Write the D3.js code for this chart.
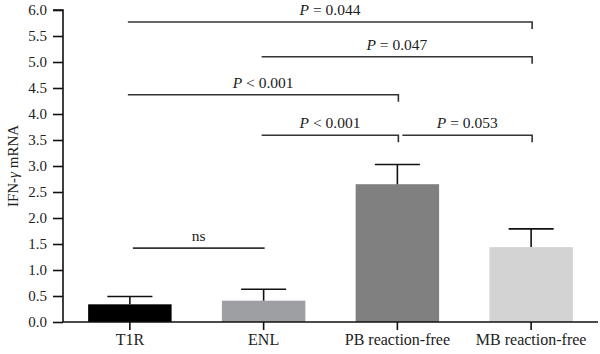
<!DOCTYPE html>
<html>
<head>
<meta charset="utf-8">
<script src="https://cdn.jsdelivr.net/npm/d3@7"></script>
<style>
html,body{margin:0;padding:0;background:#fff;}
svg{display:block;}
text{font-family:"Liberation Serif","Times New Roman",serif;fill:#222;}
</style>
</head>
<body>
<svg id="chart" width="600" height="354"></svg>
<script>
// ---- data ----
const categories = ["T1R", "ENL", "PB reaction-free", "MB reaction-free"];
const means = [0.34, 0.41, 2.65, 1.44];
const errorTops = [0.49, 0.63, 3.03, 1.79];
const barColors = ["#000000", "#9e9fa2", "#7f807f", "#d3d3d3"];
const yTicks = [0, 0.5, 1, 1.5, 2, 2.5, 3, 3.5, 4, 4.5, 5, 5.5, 6];
const bracketFrom = [0, 1, 0, 1, 2, 0];
const bracketTo = [3, 3, 2, 2, 3, 1];
const bracketLevel = [5.77, 5.10, 4.37, 3.59, 3.59, 1.42];
const bracketOp = ["=", "=", "<", "<", "=", ""];
const bracketValue = ["0.044", "0.047", "0.001", "0.001", "0.053", "ns"];

// ---- layout ----
const svg = d3.select("#chart");
const mLeft = 63, mRight = 598, mTop = 10, mBottom = 322;

const x = d3.scaleBand().domain(categories).range([mLeft, mRight])
  .paddingInner(0.376).paddingOuter(0.188);
const y = d3.scaleLinear().domain([0, 6]).range([mBottom, mTop]);

// bars
svg.append("g").selectAll("rect").data(categories).join("rect")
  .attr("x", d => x(d))
  .attr("y", (d, i) => y(means[i]))
  .attr("width", x.bandwidth())
  .attr("height", (d, i) => y(0) - y(means[i]))
  .attr("fill", (d, i) => barColors[i]);

// error bars (upper only)
const capW = x.bandwidth() * 0.54;
const eg = svg.append("g").attr("stroke", "#111").attr("stroke-width", 1.6);
categories.forEach((c, i) => {
  const cx = x(c) + x.bandwidth() / 2;
  eg.append("line").attr("x1", cx).attr("x2", cx).attr("y1", y(means[i])).attr("y2", y(errorTops[i]));
  eg.append("line").attr("x1", cx - capW / 2).attr("x2", cx + capW / 2).attr("y1", y(errorTops[i])).attr("y2", y(errorTops[i]));
});

// y axis
const yAxis = d3.axisLeft(y).tickValues(yTicks).tickFormat(d3.format(".1f")).tickSize(10).tickPadding(6);
const gy = svg.append("g").attr("transform", `translate(${mLeft},0)`).call(yAxis);
gy.select(".domain").attr("stroke", "#111").attr("stroke-width", 1.6).attr("d", `M-10,${mTop}H0V${mBottom}`);
gy.selectAll(".tick line").attr("stroke", "#111").attr("stroke-width", 1.6);
gy.selectAll(".tick text").attr("font-size", 15).attr("fill", "#222")
  .attr("font-family", "Liberation Serif, serif");

// x axis
const xAxis = d3.axisBottom(x).tickSize(8).tickPadding(4);
const gx = svg.append("g").attr("transform", `translate(0,${mBottom})`).call(xAxis);
gx.select(".domain").attr("stroke", "#111").attr("stroke-width", 1.6).attr("d", `M${mLeft},0H${mRight}`);
gx.selectAll(".tick line").attr("stroke", "#111").attr("stroke-width", 1.6);
gx.selectAll(".tick text").attr("font-size", 16).attr("fill", "#222")
  .attr("font-family", "Liberation Serif, serif");

// y label
const yl = svg.append("text")
  .attr("transform", `translate(18,${(mTop + mBottom) / 2}) rotate(-90)`)
  .attr("text-anchor", "middle").attr("font-size", 15);
yl.append("tspan").text("IFN-");
yl.append("tspan").attr("font-style", "italic").text("γ");
yl.append("tspan").text("  mRNA");

// significance brackets
const bg = svg.append("g");
bracketLevel.forEach((lv, i) => {
  const fromC = x(categories[bracketFrom[i]]) + x.bandwidth() / 2;
  const toC = x(categories[bracketTo[i]]) + x.bandwidth() / 2;
  const isNs = bracketValue[i] === "ns";
  const startsAtEnd = bracketTo.some((t, j) => j !== i && t === bracketFrom[i] && bracketLevel[j] === lv);
  const x1 = fromC + (startsAtEnd ? 5 : (isNs ? 3 : -2));
  const x2 = toC + 1;
  const yy = y(lv);
  const p = isNs ? `M${x1},${yy}H${x2}` : `M${x1},${yy}H${x2}V${yy + 7}`;
  bg.append("path").attr("d", p).attr("fill", "none").attr("stroke", "#333").attr("stroke-width", 1.6);
  const t = bg.append("text").attr("x", (x1 + x2) / 2).attr("y", yy - 7)
    .attr("text-anchor", "middle").attr("font-size", 15.5);
  if (isNs) {
    t.text("ns");
  } else {
    t.append("tspan").attr("font-style", "italic").text("P");
    t.append("tspan").text(` ${bracketOp[i]} ${bracketValue[i]}`);
  }
});
</script>
</body>
</html>
